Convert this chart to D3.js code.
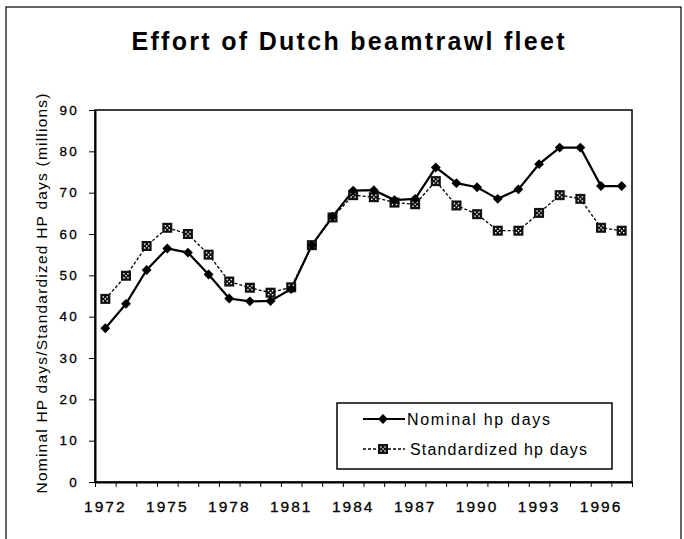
<!DOCTYPE html>
<html lang="en">
<head>
<meta charset="UTF-8">
<title>Effort of Dutch beamtrawl fleet</title>
<script src="https://d3js.org/d3.v7.min.js"></script>
<style>
    body { margin: 0; background: #fff; }
    svg { display: block; font-family: "Liberation Sans", Arial, sans-serif; }
    .axis path, .axis line { stroke: #000; }
    .axis text { fill: #000; stroke: #000; stroke-width: 0.3px; }
</style>
</head>
<body>
<svg width="684" height="539"></svg>
<script>
    // Data
    const years = [1972, 1973, 1974, 1975, 1976, 1977, 1978, 1979, 1980, 1981, 1982, 1983, 1984,
                   1985, 1986, 1987, 1988, 1989, 1990, 1991, 1992, 1993, 1994, 1995, 1996, 1997];
    const nominal = [37.2, 43.1, 51.3, 56.5, 55.5, 50.2, 44.4, 43.7, 43.8, 46.7, 57.3, 64.2, 70.5,
                     70.6, 68.2, 68.5, 76.1, 72.3, 71.3, 68.5, 70.8, 76.9, 80.9, 80.9, 71.6, 71.6];
    const standardized = [44.3, 49.9, 57.1, 61.5, 60.0, 55.0, 48.5, 47.0, 45.8, 47.1, 57.3, 64.0, 69.4,
                          68.9, 67.6, 67.2, 72.8, 66.9, 64.8, 60.8, 60.8, 65.1, 69.4, 68.5, 61.5, 60.8];
    const xTickLabels = [1972, 1975, 1978, 1981, 1984, 1987, 1990, 1993, 1996];
    const yTicks = [0, 10, 20, 30, 40, 50, 60, 70, 80, 90];
    const seriesNames = ["Nominal hp days", "Standardized hp days"];

    const svg = d3.select("svg");
    const plot = { left: 95, right: 632, top: 110, bottom: 482 };

    // outer frame of the figure
    svg.append("rect")
        .attr("x", 6).attr("y", 7)
        .attr("width", 675).attr("height", 540)
        .attr("fill", "none").attr("stroke", "#000").attr("stroke-width", 1.2);

    // title
    svg.append("text")
        .attr("x", 348).attr("y", 50)
        .attr("text-anchor", "middle")
        .attr("textLength", 433).attr("lengthAdjust", "spacing")
        .style("font-size", "25px").style("font-weight", "bold")
        .text("Effort of Dutch beamtrawl fleet");

    // scales
    const x = d3.scaleBand().domain(years).range([plot.left, plot.right]).padding(0);
    const xEdge = d3.scaleLinear().domain([0, years.length]).range([plot.left, plot.right]);
    const y = d3.scaleLinear().domain([0, 90]).range([plot.bottom, plot.top]);
    const cx = d => x(d) + x.bandwidth() / 2;

    // plot box (top and right)
    svg.append("rect")
        .attr("x", plot.left).attr("y", plot.top)
        .attr("width", plot.right - plot.left).attr("height", plot.bottom - plot.top)
        .attr("fill", "none").attr("stroke", "#000").attr("stroke-width", 1.5);

    // y axis
    const yAxis = svg.append("g")
        .attr("class", "axis")
        .attr("transform", `translate(${plot.left},0)`)
        .call(d3.axisLeft(y).tickValues(yTicks).tickSize(6).tickPadding(10).tickSizeOuter(0));
    yAxis.select(".domain").attr("stroke-width", 2);
    yAxis.selectAll("text")
        .style("font-size", "13.5px")
        .style("letter-spacing", "2.2px");

    // x axis: ticks on band edges, labels every third year
    const xTicks = svg.append("g")
        .attr("class", "axis")
        .attr("transform", `translate(0,${plot.bottom})`)
        .call(d3.axisBottom(xEdge).tickValues(d3.range(years.length + 1)).tickFormat("").tickSize(5).tickSizeOuter(0));
    xTicks.select(".domain").attr("stroke-width", 2.2);

    const xLabels = svg.append("g")
        .attr("class", "axis")
        .attr("transform", `translate(0,${plot.bottom})`)
        .call(d3.axisBottom(x).tickValues(xTickLabels).tickSize(0).tickPadding(19));
    xLabels.select(".domain").remove();
    xLabels.selectAll("text")
        .style("font-size", "15.5px")
        .style("letter-spacing", "2px");

    // y axis title
    svg.append("text")
        .attr("transform", "translate(47,293.5) rotate(-90)")
        .attr("text-anchor", "middle")
        .attr("textLength", 400).attr("lengthAdjust", "spacing")
        .style("font-size", "15.5px")
        .text("Nominal HP days/Standardized HP days (millions)");

    // lines
    const line = d3.line().x(d => cx(d[0])).y(d => y(d[1]));
    const nomPts = years.map((yr, i) => [yr, nominal[i]]);
    const stdPts = years.map((yr, i) => [yr, standardized[i]]);

    svg.append("path")
        .datum(stdPts)
        .attr("d", line)
        .attr("fill", "none").attr("stroke", "#000")
        .attr("stroke-width", 1.3).attr("stroke-dasharray", "3,2");

    svg.append("path")
        .datum(nomPts)
        .attr("d", line)
        .attr("fill", "none").attr("stroke", "#000")
        .attr("stroke-width", 2.2);

    // marker helpers
    function drawSquare(g, px, py) {
        g.append("rect")
            .attr("x", px - 5).attr("y", py - 5)
            .attr("width", 10).attr("height", 10)
            .attr("fill", "#111");
        [[-2, -2], [2, -2], [-2, 2], [2, 2], [0, 0]].forEach(o => {
            g.append("rect")
                .attr("x", px + o[0] - 0.7).attr("y", py + o[1] - 0.7)
                .attr("width", 1.4).attr("height", 1.4)
                .attr("fill", "#fff");
        });
    }
    const diamond = d3.symbol().type(d3.symbolDiamond2).size(62);

    const stdMarks = svg.append("g");
    stdPts.forEach(d => drawSquare(stdMarks, cx(d[0]), y(d[1])));

    svg.append("g").selectAll("path")
        .data(nomPts)
        .join("path")
        .attr("d", diamond)
        .attr("transform", d => `translate(${cx(d[0])},${y(d[1])})`)
        .attr("fill", "#000");

    // legend
    const legend = svg.append("g");
    legend.append("rect")
        .attr("x", 337).attr("y", 403)
        .attr("width", 275).attr("height", 66)
        .attr("fill", "#fff").attr("stroke", "#000").attr("stroke-width", 1.5);

    legend.append("line")
        .attr("x1", 363).attr("x2", 405).attr("y1", 419).attr("y2", 419)
        .attr("stroke", "#000").attr("stroke-width", 2.2);
    legend.append("path")
        .attr("d", diamond)
        .attr("transform", "translate(383,419)");
    legend.append("text")
        .attr("x", 407).attr("y", 425)
        .attr("textLength", 143).attr("lengthAdjust", "spacing")
        .style("font-size", "16px")
        .text(seriesNames[0]);

    legend.append("line")
        .attr("x1", 363).attr("x2", 405).attr("y1", 449).attr("y2", 449)
        .attr("stroke", "#000").attr("stroke-width", 1.3).attr("stroke-dasharray", "3,2");
    drawSquare(legend, 383, 449);
    legend.append("text")
        .attr("x", 410).attr("y", 455)
        .attr("textLength", 177).attr("lengthAdjust", "spacing")
        .style("font-size", "16px")
        .text(seriesNames[1]);
</script>
</body>
</html>
